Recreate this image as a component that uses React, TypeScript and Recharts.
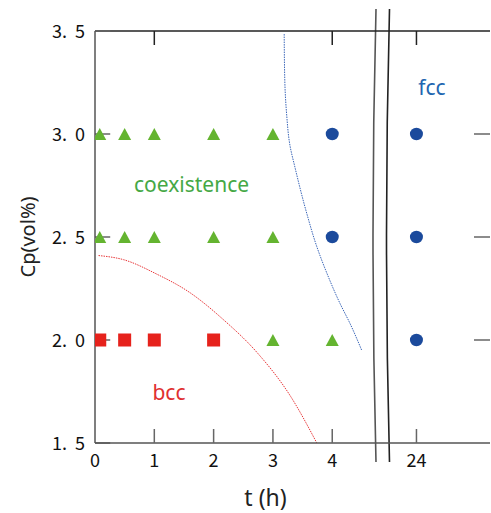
import React from "react";
import {
  ComposedChart,
  Scatter,
  Line,
  XAxis,
  YAxis,
  ReferenceLine,
  Customized,
} from "recharts";

// time (h) of each sample; 24 h sits past the axis break
const triangleT = [0.08, 0.5, 1, 2, 3, 0.08, 0.5, 1, 2, 3, 3, 4];
const triangleCp = [3.0, 3.0, 3.0, 3.0, 3.0, 2.5, 2.5, 2.5, 2.5, 2.5, 2.0, 2.0];

const circleT = [4, 24, 4, 24, 24];
const circleCp = [3.0, 3.0, 2.5, 2.5, 2.0];

const squareT = [0.08, 0.5, 1, 2];
const squareCp = [2.0, 2.0, 2.0, 2.0];

// phase boundaries (dotted)
const bccBoundaryT = [0.06, 0.48, 1.04, 1.6, 2.16, 2.73, 3.29, 3.74];
const bccBoundaryCp = [2.41, 2.39, 2.32, 2.23, 2.1, 1.94, 1.73, 1.5];

const fccBoundaryT = [3.19, 3.2, 3.23, 3.29, 3.37, 3.57, 3.74, 3.91, 4.13, 4.3, 4.5];
const fccBoundaryCp = [3.485, 3.26, 3.1, 2.94, 2.84, 2.615, 2.453, 2.324, 2.178, 2.08, 1.948];

const xTicks = [0, 1, 2, 3, 4, 24];
const innerXTicks = [1, 2, 3, 4, 24];
const topTicks = [1, 4, 24];
const yTicks = [1.5, 2.0, 2.5, 3.0, 3.5];
const rightTicks = [2.0, 2.5, 3.0];

// broken axis: 24 h is drawn at this position on the linear scale
const BREAK_24 = 5.42;
const X_MAX = 6.66;
const Y_MIN = 1.5;
const Y_MAX = 3.5;
const xPos = (t: number) => (t >= 24 ? BREAK_24 + (t - 24) : t);
const fmtX = (v: number) => (v > 5 ? "24" : String(v));
const fmtY = (v: number) => v.toFixed(1).replace(".", ".  ");

const toPoints = (ts: number[], cps: number[]) =>
  ts.map((t, i) => ({ x: xPos(t), cp: cps[i] }));

const triangles = toPoints(triangleT, triangleCp);
const circles = toPoints(circleT, circleCp);
const squares = toPoints(squareT, squareCp);
const bccLine = toPoints(bccBoundaryT, bccBoundaryCp);
const fccLine = toPoints(fccBoundaryT, fccBoundaryCp);
const bottomTickPts = innerXTicks.map((t) => ({ x: xPos(t), cp: Y_MIN }));
const topTickPts = topTicks.map((t) => ({ x: xPos(t), cp: Y_MAX }));

const GREEN = "#64b430";
const RED = "#e6221c";
const BLUE = "#1b4a9c";
const AXIS = "#555";
const TICK = "#666";
// horizontal inward tick length in data units (~16px)
const H_TICK = 0.27;
const tickFamily = "'Noto Sans CJK JP', sans-serif";
const labelFont = "'Noto Sans', sans-serif";

const BOTTOM_M = 12;
const LEFT_M = 10;

const BottomTick = (p: any) => (
  <text x={p.x} y={p.y + 12} textAnchor="middle" fontFamily={tickFamily} fontSize={18} fill="#111">
    {fmtX(p.payload.value)}
  </text>
);

const LeftTick = (p: any) => (
  <text
    x={p.x}
    y={p.y + 7}
    textAnchor="end"
    xmlSpace="preserve"
    fontFamily={tickFamily}
    fontSize={18}
    fill="#111"
  >
    {fmtY(p.payload.value)}
  </text>
);

// inward tick marks on the bottom and top frame
const UpTick = (p: any) => <rect x={p.cx - 0.75} y={p.cy - 14} width={1.5} height={14} fill={TICK} />;
const DownTick = (p: any) => <rect x={p.cx - 0.75} y={p.cy} width={1.5} height={14} fill="#222" />;

const Triangle = (p: any) => (
  <polygon
    points={`${p.cx},${p.cy - 6} ${p.cx - 6.5},${p.cy + 6} ${p.cx + 6.5},${p.cy + 6}`}
    fill={GREEN}
  />
);
const Square = (p: any) => <rect x={p.cx - 6.5} y={p.cy - 6.5} width={13} height={13} fill={RED} />;
const Dot = (p: any) => <ellipse cx={p.cx} cy={p.cy} rx={6.5} ry={6.2} fill={BLUE} />;

const Overlay = () => (
  <g>
    <text x={191.5} y={192} textAnchor="middle" fontFamily={labelFont} fontSize={21} fill="#45a845">
      coexistence
    </text>
    <text x={169} y={400} textAnchor="middle" fontFamily={labelFont} fontSize={21} fill="#e03030">
      bcc
    </text>
    <text x={432} y={95} textAnchor="middle" fontFamily={labelFont} fontSize={21} fill="#2166b0">
      fcc
    </text>
    {/* axis break */}
    <path d="M376,9 Q370,235.5 376,462 L389.5,462 Q383.5,235.5 389.5,9 Z" fill="#fff" stroke="none" />
    <path d="M376,9 Q370,235.5 376,462" fill="none" stroke="#555" strokeWidth={1.6} />
    <path d="M389.5,9 Q383.5,235.5 389.5,462" fill="none" stroke="#222" strokeWidth={1.6} />
  </g>
);

const seg = (x1: number, y1: number, x2: number, y2: number, color: string, key: string) => (
  <ReferenceLine
    key={key}
    segment={[
      { x: x1, y: y1 },
      { x: x2, y: y2 },
    ]}
    stroke={color}
    strokeWidth={1.5}
    ifOverflow="visible"
  />
);

export default function App() {
  return (
    <div style={{ position: "absolute", left: 0, top: 0, background: "#fff" }}>
      <ComposedChart width={491} height={513} margin={{ top: 31, right: 1, bottom: 0, left: 0 }}>
        <XAxis
          dataKey="x"
          type="number"
          domain={[0, X_MAX]}
          ticks={xTicks.map(xPos)}
          allowDataOverflow
          height={70}
          stroke={AXIS}
          strokeWidth={1.5}
          tickLine={false}
          tickSize={0}
          tickMargin={BOTTOM_M}
          tick={BottomTick}
          label={{
            value: "t (h)",
            position: "insideBottom",
            dx: -27,
            offset: 7,
            style: { fontFamily: labelFont, fontSize: 23, fill: "#222" },
          }}
        />
        <YAxis
          dataKey="cp"
          type="number"
          domain={[Y_MIN, Y_MAX]}
          ticks={yTicks}
          width={95}
          stroke={AXIS}
          strokeWidth={1.5}
          tickLine={false}
          tickSize={0}
          tickMargin={LEFT_M}
          tick={LeftTick}
          label={{
            value: "Cp(vol%)",
            angle: -90,
            position: "center",
            dx: -20,
            style: { fontFamily: labelFont, fontSize: 20, fill: "#222", textAnchor: "middle" },
          }}
        />
        {/* top frame line */}
        {seg(0, Y_MAX, X_MAX, Y_MAX, "#222", "top")}
        {/* inward ticks, left and right */}
        {yTicks.map((v) => seg(0, v, H_TICK * 0.95, v, TICK, `l${v}`))}
        {rightTicks.map((v) => seg(X_MAX - H_TICK, v, X_MAX, v, TICK, `r${v}`))}
        <Scatter data={bottomTickPts} dataKey="cp" shape={UpTick} isAnimationActive={false} />
        <Scatter data={topTickPts} dataKey="cp" shape={DownTick} isAnimationActive={false} />
        <Line
          data={bccLine}
          dataKey="cp"
          type="monotone"
          stroke="#e8383a"
          strokeWidth={1}
          strokeDasharray="1.5 1"
          dot={false}
          activeDot={false}
          isAnimationActive={false}
        />
        <Line
          data={fccLine}
          dataKey="cp"
          type="monotoneY"
          stroke="#3a66b8"
          strokeWidth={1}
          strokeDasharray="1.5 1"
          dot={false}
          activeDot={false}
          isAnimationActive={false}
        />
        <Scatter data={triangles} dataKey="cp" shape={Triangle} isAnimationActive={false} />
        <Scatter data={squares} dataKey="cp" shape={Square} isAnimationActive={false} />
        <Scatter data={circles} dataKey="cp" shape={Dot} isAnimationActive={false} />
        <Customized component={Overlay} />
      </ComposedChart>
    </div>
  );
}
